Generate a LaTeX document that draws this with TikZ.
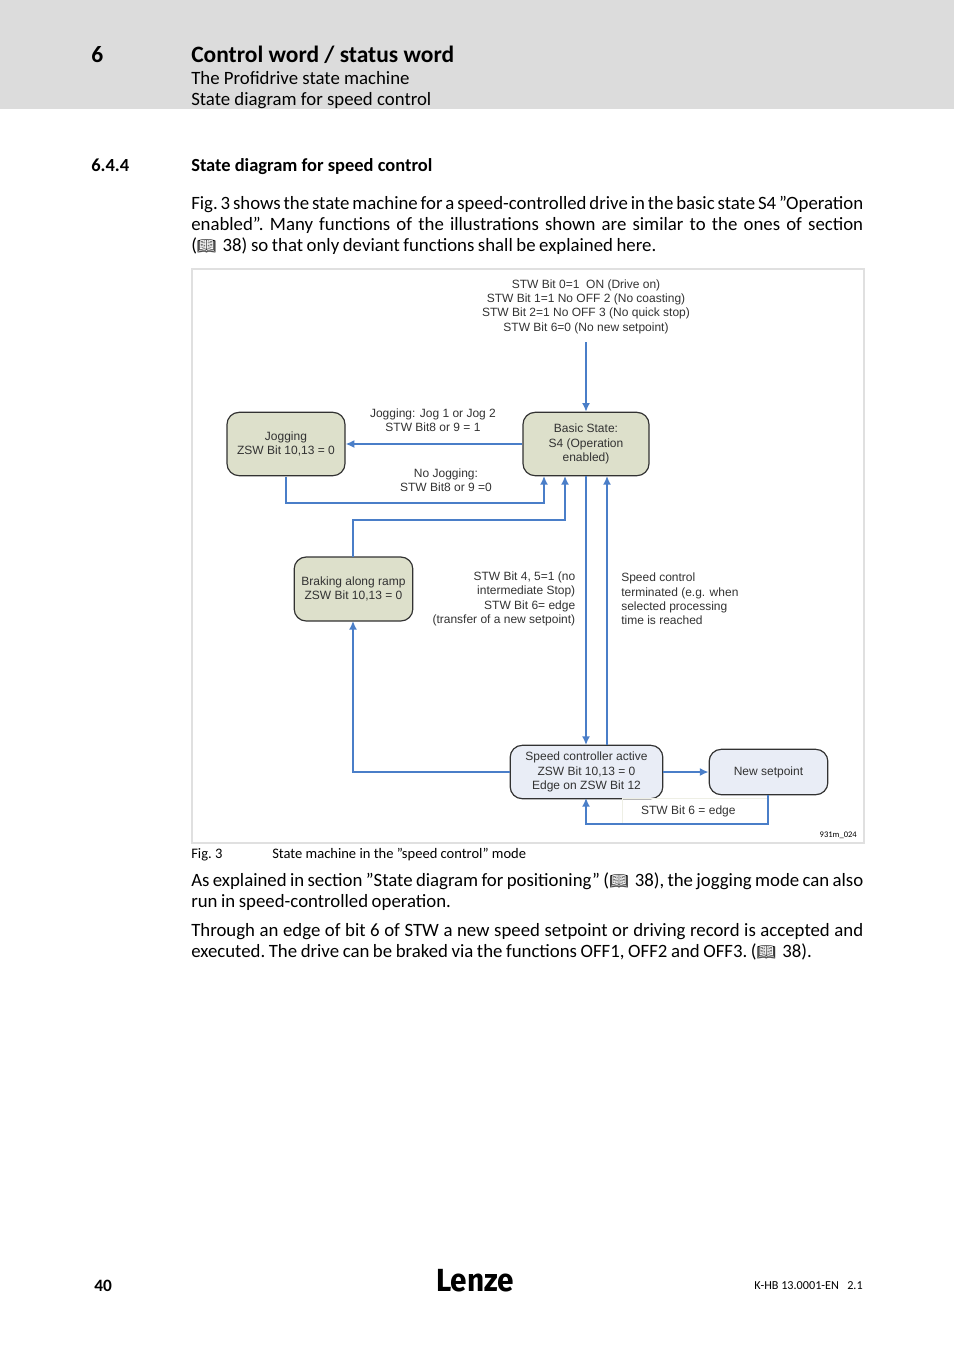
\documentclass[tikz,border=0pt]{standalone}
\usepackage{fontspec}
\setmainfont{Carlito}
\newfontfamily\chartfont{Liberation Sans}
\newfontfamily\logofont[FakeStretch=0.93]{Fira Sans}
\newfontfamily\iconfont{Noto Emoji}
\definecolor{headgray}{RGB}{220, 220, 220}
\definecolor{framegray}{RGB}{224, 224, 224}
\definecolor{stategreen}{RGB}{221, 224, 203}
\definecolor{stateblue}{RGB}{233, 237, 246}
\definecolor{flowblue}{RGB}{74, 126, 200}
\definecolor{chartgray}{RGB}{50, 50, 50}
\newcommand{\bookmark}{{\iconfont\fontsize{11.5}{12}\selectfont 📖}}
\newcommand{\tightwords}{\frenchspacing\spaceskip=0.19em plus 0.2em minus 0.06em\relax}
\usetikzlibrary{arrows.meta,positioning}

\begin{document}
\begin{tikzpicture}[
    x=0.75pt, y=-0.75pt,
    statebox/.style={rectangle, draw=chartgray, line width=0.9pt, rounded corners=9pt, align=center, inner sep=0pt, text=chartgray, font=\chartfont\fontsize{9}{10.75}\selectfont},
    note/.style={align=center, inner sep=0pt, text=chartgray, font=\chartfont\fontsize{9}{10.75}\selectfont},
    bodyline/.style={anchor=base west, inner sep=0pt, font=\fontsize{14.1}{17}\selectfont\tightwords},
    headline/.style={anchor=base west, inner sep=0pt, font=\fontsize{14.1}{17}\selectfont},
    smallline/.style={anchor=base west, inner sep=0pt, font=\fontsize{10.9}{13}\selectfont\frenchspacing},
    flow/.style={-{Latex[length=6.5pt,width=6pt]}, line width=1.25pt, draw=flowblue}
]
\useasboundingbox (0,0) rectangle (954,1350);
\fill[headgray] (0,0) rectangle (954,109);
\draw[framegray, line width=1.5pt] (192,269) rectangle (864,843);

% page header
\node[anchor=base west, inner sep=0pt, font=\fontsize{17.6}{20}\selectfont\bfseries] (chapno) at (91,62) {6};
\node[anchor=base west, inner sep=0pt, font=\fontsize{17.6}{20}\selectfont\bfseries] (chaptitle) at (191,62) {Control word / status word};
\node[headline] (subtitle) at (191,84) {The Profidrive state machine};
\node[headline] (subsubtitle) at (191,105) {State diagram for speed control};
\node[anchor=base west, inner sep=0pt, font=\fontsize{13.85}{16}\selectfont\bfseries] (secno) at (91,171) {6.4.4};
\node[anchor=base west, inner sep=0pt, font=\fontsize{13.85}{16}\selectfont\bfseries] (sectitle) at (191,171) {State diagram for speed control};

% text above the figure
\node[bodyline] (introa) at (191,209) {\makebox[504pt][s]{Fig. 3 shows the state machine for a speed-controlled drive in the basic state S4 ”Operation}};
\node[bodyline] (introb) at (191,230) {\makebox[504pt][s]{enabled”. Many functions of the illustrations shown are similar to the ones of section}};
\node[bodyline] (introc) at (191,251) {(\bookmark{}\hspace{2pt} 38) so that only deviant functions shall be explained here.};

% states
\node[statebox, fill=stategreen, minimum width=88.5pt, minimum height=47.5pt] (jogging) at (286,444) {Jogging\\ZSW Bit 10,13 = 0};
\node[statebox, fill=stategreen, minimum width=94.5pt, minimum height=47.5pt] (basic) at (586,444) {Basic State:\\S4 (Operation\\enabled)};
\node[statebox, fill=stategreen, minimum width=89pt, minimum height=48pt] (braking) at (353.5,589) {Braking along ramp\\ZSW Bit 10,13 = 0};
\node[statebox, fill=stateblue, minimum width=114.5pt, minimum height=40pt] (speedctrl) at (586.5,772) {Speed controller active\\ZSW Bit 10,13 = 0\\Edge on ZSW Bit 12};
\node[statebox, fill=stateblue, minimum width=89pt, minimum height=34pt] (setpoint) at (768.5,772) {New setpoint};
\node[note, draw=stategreen!50, line width=0.75pt, minimum width=109pt, minimum height=19pt] (edgelabel) at (695,811) {\hspace{1pt}STW Bit 6 = edge\hspace{11pt}};

% labels
\node[note, anchor=south] (enablenote) at (586,334) {STW Bit 0=1\ \ ON (Drive on)\\STW Bit 1=1 No OFF 2 (No coasting)\\STW Bit 2=1 No OFF 3 (No quick stop)\\STW Bit 6=0 (No new setpoint)};
\node[note] (joglabel) at (433,420) {Jogging: Jog 1 or Jog 2\\STW Bit8 or 9 = 1};
\node[note] (nojoglabel) at (446,480) {No Jogging:\\STW Bit8 or 9 =0};
\node[note, anchor=east, align=right] (startlabel) at (575.5,599) {STW Bit 4, 5=1 (no\\intermediate Stop)\\STW Bit 6= edge\\(transfer of a new setpoint)};
\node[note, anchor=west, align=left] (donelabel) at (621,599) {Speed control\\terminated (e.g. when\\selected processing\\time is reached};
\node[anchor=east, inner sep=0pt, font=\fontsize{6.4}{7}\selectfont] (drawingno) at (857,835) {931m\_024};

\coordinate (enablestart) at (586,342);
\coordinate (jogback) at (544,476);
\coordinate (brakeback) at (565,476);
\coordinate (doneback) at (607,476);
\coordinate (startin) at (586,745);
\coordinate (doneout) at (607,745);
\coordinate (setpointout) at (768,795);
\coordinate (setpointback) at (586,798);
\coordinate (brakeout) at (353,557);
\coordinate (jogout) at (286,477);
\coordinate (startout) at (586,476);
\coordinate (brakein) at (353,621);

% connectors
\draw[flow] (enablestart) -- (enablestart |- basic.north);
\draw[flow] (basic.west) -- (jogging.east);
\draw[flow] (jogout) -- ++(0,26) -| (jogback);
\draw[flow] (brakeout) -- ++(0,-37) -| (brakeback);
\draw[flow] (startout) -- (startin);
\draw[flow] (doneout) -- (doneback);
\draw[flow] (speedctrl.west) -| (brakein);
\draw[flow] (speedctrl.east) -- (setpoint.west);
\draw[flow] (setpointout) -- ++(0,29) -| (setpointback);

% text below the figure
\node[smallline] (figno) at (191,858) {Fig. 3};
\node[smallline] (figtitle) at (272,858) {State machine in the ”speed control” mode};
\node[bodyline] (aftera) at (191,886) {\makebox[504pt][s]{As explained in section ”State diagram for positioning” (\bookmark{}\hspace{2pt} 38), the jogging mode can also}};
\node[bodyline] (afterb) at (191,907) {run in speed-controlled operation.};
\node[bodyline] (afterc) at (191,936) {\makebox[504pt][s]{Through an edge of bit 6 of STW a new speed setpoint or driving record is accepted and}};
\node[bodyline] (afterd) at (191,957) {executed. The drive can be braked via the functions OFF1, OFF2 and OFF3. (\bookmark{}\hspace{2pt} 38).};

% page footer
\node[anchor=base west, inner sep=0pt, font=\fontsize{13}{15}\selectfont\bfseries] (pageno) at (94,1291) {40};
\node[anchor=base, inner sep=0pt, font=\logofont\fontsize{24}{24}\selectfont\bfseries] (logo) at (475,1291) {Lenze};
\node[anchor=base east, inner sep=0pt, font=\fontsize{9.15}{11}\selectfont\frenchspacing] (docno) at (863,1289) {K-HB 13.0001-EN\ \ \ 2.1};
\end{tikzpicture}
\end{document}
